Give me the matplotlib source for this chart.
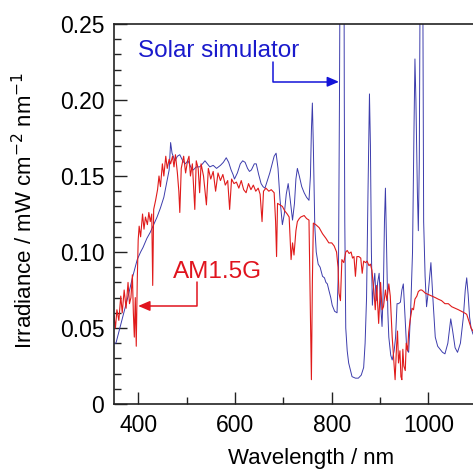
import numpy as np
import matplotlib
matplotlib.use('Agg')
import matplotlib.pyplot as plt
from matplotlib.ticker import MultipleLocator, FuncFormatter

plt.rcParams['font.family'] = ['Liberation Sans', 'DejaVu Sans']

# AM1.5G reference spectrum
am_wl = [350, 353, 356, 360, 364, 367, 371, 375, 379, 382, 385, 388, 390, 392, 394, 396, 398,
         400, 402, 405, 409, 412, 415, 419, 422, 425, 428, 430, 432, 436, 440, 443, 446, 450,
         453, 457, 460, 464, 467, 471, 474, 477, 481, 484, 486, 489, 494, 498, 502, 505, 508,
         512, 517, 520, 524, 527, 530, 535, 541, 545, 550, 555, 560, 565, 570, 575, 580, 585,
         589, 593, 598, 603, 608, 613, 618, 623, 628, 633, 638, 643, 648, 652, 656, 659, 664,
         670, 675, 681, 684, 686, 688, 693, 698, 703, 708, 712, 716, 719, 722, 726, 729, 733,
         736, 743, 748, 753, 756, 758, 760, 762, 767, 774, 781, 788, 794, 800, 805, 810, 813,
         815, 818, 821, 825, 829, 832, 836, 840, 843, 846, 849, 852, 856, 860, 863, 866, 870,
         873, 877, 880, 883, 887, 890, 893, 897, 901, 904, 907, 911, 914, 918, 921, 925, 928,
         931, 934, 936, 938, 941, 943, 945, 947, 949, 952, 954, 957, 959, 962, 966, 969, 972,
         976, 979, 983, 986, 990, 993, 1000, 1007, 1014, 1020, 1027, 1034, 1041, 1048, 1055,
         1062, 1068, 1074, 1079, 1083, 1088, 1092]
am_irr = [0.058, 0.050, 0.062, 0.055, 0.071, 0.060, 0.075, 0.063, 0.080, 0.066, 0.070, 0.085,
          0.060, 0.044, 0.070, 0.038, 0.080, 0.108, 0.117, 0.110, 0.125, 0.115, 0.123, 0.118,
          0.126, 0.120, 0.125, 0.078, 0.128, 0.134, 0.141, 0.150, 0.143, 0.158, 0.150, 0.163,
          0.155, 0.161, 0.158, 0.163, 0.156, 0.164, 0.152, 0.140, 0.126, 0.155, 0.163, 0.152,
          0.160, 0.163, 0.150, 0.158, 0.128, 0.160, 0.155, 0.139, 0.158, 0.150, 0.131, 0.155,
          0.148, 0.153, 0.140, 0.152, 0.147, 0.151, 0.144, 0.147, 0.128, 0.148, 0.145, 0.146,
          0.142, 0.147, 0.141, 0.139, 0.145, 0.141, 0.144, 0.140, 0.142, 0.138, 0.120, 0.140,
          0.142, 0.140, 0.141, 0.139, 0.120, 0.097, 0.132, 0.131, 0.130, 0.127, 0.125, 0.123,
          0.095, 0.106, 0.098, 0.114, 0.120, 0.122, 0.123, 0.124, 0.122, 0.121, 0.060, 0.016,
          0.080, 0.119, 0.118, 0.116, 0.112, 0.109, 0.106, 0.106, 0.104, 0.100, 0.090, 0.073,
          0.068, 0.095, 0.093, 0.100, 0.101, 0.099, 0.100, 0.096, 0.097, 0.084, 0.097, 0.097,
          0.096, 0.086, 0.094, 0.093, 0.094, 0.091, 0.092, 0.088, 0.075, 0.062, 0.078, 0.053,
          0.080, 0.062, 0.064, 0.075, 0.068, 0.079, 0.071, 0.044, 0.030, 0.016, 0.038, 0.048,
          0.027, 0.035, 0.018, 0.016, 0.036, 0.025, 0.022, 0.040, 0.035, 0.047, 0.055, 0.063,
          0.062, 0.069, 0.071, 0.074, 0.075, 0.075, 0.074, 0.073, 0.072, 0.071, 0.070, 0.069,
          0.068, 0.066, 0.066, 0.064, 0.063, 0.062, 0.061, 0.060, 0.059, 0.055, 0.050, 0.048]

# solar simulator output
sim_wl = [350, 354, 363, 371, 380, 388, 398, 405, 410, 418, 425, 432, 439, 446, 453, 459, 464,
          467, 470, 476, 481, 486, 492, 497, 503, 510, 514, 520, 527, 533, 538, 543, 548, 555,
          562, 570, 576, 582, 587, 592, 596, 599, 605, 611, 616, 621, 626, 630, 634, 640, 644,
          649, 654, 658, 662, 667, 672, 677, 681, 685, 689, 693, 698, 702, 706, 710, 714, 719,
          723, 726, 729, 733, 738, 743, 748, 753, 756, 758, 760, 762, 765, 768, 772, 776, 781,
          785, 788, 791, 794, 798, 801, 806, 811, 814, 816, 818, 820, 823, 825, 826, 827, 829,
          832, 835, 842, 849, 855, 861, 866, 869, 872, 875, 878, 880, 882, 884, 887, 889, 892,
          895, 898, 901, 904, 907, 909, 911, 913, 916, 918, 922, 925, 929, 932, 935, 938, 942,
          945, 948, 951, 955, 959, 963, 967, 970, 972, 974, 977, 979, 981, 983, 985, 987, 988,
          990, 993, 996, 1000, 1005, 1009, 1014, 1019, 1024, 1029, 1034, 1040, 1046, 1050,
          1055, 1060, 1066, 1072, 1076, 1079, 1082, 1085, 1088, 1092]
sim_irr = [0.040, 0.040, 0.051, 0.061, 0.072, 0.083, 0.095, 0.100, 0.103, 0.109, 0.113, 0.118,
           0.123, 0.129, 0.136, 0.146, 0.154, 0.172, 0.165, 0.160, 0.163, 0.164, 0.160, 0.158,
           0.160, 0.155, 0.154, 0.156, 0.156, 0.158, 0.160, 0.158, 0.156, 0.157, 0.155, 0.157,
           0.159, 0.162, 0.159, 0.154, 0.151, 0.148, 0.152, 0.158, 0.160, 0.159, 0.155, 0.153,
           0.154, 0.158, 0.158, 0.151, 0.145, 0.143, 0.142, 0.147, 0.152, 0.158, 0.163, 0.165,
           0.155, 0.135, 0.118, 0.125, 0.138, 0.145, 0.135, 0.121, 0.132, 0.148, 0.155, 0.150,
           0.143, 0.139, 0.136, 0.134, 0.150, 0.180, 0.198, 0.170, 0.117, 0.100, 0.092, 0.090,
           0.084, 0.083, 0.080, 0.079, 0.075, 0.070, 0.065, 0.061, 0.060, 0.090, 0.200, 0.350,
           0.420, 0.420, 0.350, 0.200, 0.120, 0.050, 0.035, 0.027, 0.018, 0.017, 0.017, 0.019,
           0.024, 0.040, 0.070, 0.140, 0.204, 0.170, 0.100, 0.065, 0.080, 0.086, 0.068, 0.080,
           0.086, 0.066, 0.051, 0.080, 0.120, 0.142, 0.110, 0.060, 0.044, 0.032, 0.029, 0.035,
           0.044, 0.066, 0.066, 0.067, 0.075, 0.079, 0.060, 0.036, 0.034, 0.060, 0.100, 0.180,
           0.227, 0.200, 0.140, 0.114, 0.160, 0.300, 0.400, 0.400, 0.300, 0.120, 0.084, 0.064,
           0.075, 0.093, 0.070, 0.044, 0.038, 0.036, 0.034, 0.033, 0.040, 0.056, 0.048, 0.037,
           0.034, 0.040, 0.057, 0.075, 0.083, 0.072, 0.057, 0.050, 0.046]

fig = plt.figure(figsize=(4.73, 4.73), dpi=100)
ax = fig.add_axes([114 / 473, 69 / 473, 359 / 473, 380 / 473])

ax.plot(sim_wl, sim_irr, color='#3c3cac', lw=0.7)
ax.plot(am_wl, am_irr, color='#e01b1b', lw=0.8)

ax.set_xlim(350, 1092)
ax.set_ylim(0, 0.25)

ax.xaxis.set_major_locator(MultipleLocator(200))
ax.xaxis.set_minor_locator(MultipleLocator(100))
ax.yaxis.set_major_locator(MultipleLocator(0.05))
ax.yaxis.set_minor_locator(MultipleLocator(0.01))
ax.yaxis.set_major_formatter(FuncFormatter(lambda v, p: '0' if abs(v) < 1e-9 else '%.2f' % v))

ax.tick_params(which='both', direction='in', labelsize=16.5, width=1, color='#222222')
ax.tick_params(which='major', length=9, pad=7)
ax.tick_params(which='minor', length=5)
ax.tick_params(top=False, right=False)
ax.spines['right'].set_visible(False)
for s in ['left', 'bottom', 'top']:
    ax.spines[s].set_linewidth(1.2)
    ax.spines[s].set_color('#222222')

ax.set_xlabel('Wavelength / nm', fontsize=16)
ax.xaxis.set_label_coords((311 - 114) / 359, -0.115)
ax.set_ylabel('Irradiance / mW cm$^{-2}$ nm$^{-1}$', fontsize=16)
ax.yaxis.set_label_coords(-0.214, 0.51)

# annotations
ax.text(400, 0.232, 'Solar simulator', color='#1a1acc', fontsize=17.5, va='center', ha='left')
ax.annotate('', xy=(815, 0.212), xytext=(679.5, 0.225),
            arrowprops=dict(arrowstyle='-|>,head_length=0.7,head_width=0.3', color='#1414d8',
                            lw=1.1, shrinkA=0, shrinkB=0,
                            connectionstyle='angle,angleA=90,angleB=0,rad=0'))
ax.text(472, 0.087, 'AM1.5G', color='#e0141e', fontsize=17.5, va='center', ha='left')
ax.annotate('', xy=(400, 0.0645), xytext=(521, 0.080),
            arrowprops=dict(arrowstyle='-|>,head_length=0.7,head_width=0.3', color='#e0141e',
                            lw=1.1, shrinkA=0, shrinkB=0,
                            connectionstyle='angle,angleA=90,angleB=0,rad=0'))

fig.savefig('out.png', dpi=100)
